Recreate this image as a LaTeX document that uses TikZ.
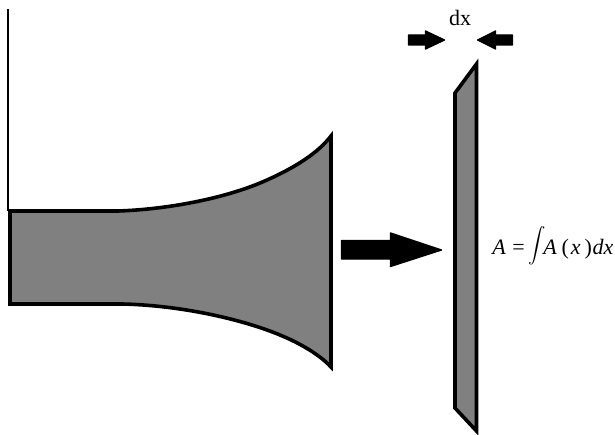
\documentclass[tikz,border=0pt]{standalone}
\usepackage{graphicx}
\usepackage{fontspec}
\setmainfont{Liberation Serif}
\definecolor{shade}{gray}{0.5}
\tikzset{
  body/.style={draw=black,fill=shade,line width=2.7pt,line join=miter,miter limit=6},
  blockarrow/.style={fill=black,draw=black,line width=1pt,line join=round},
  label/.style={inner sep=0pt,text=black,font=\fontsize{16.5}{19}\selectfont}
}
\begin{document}
\begin{tikzpicture}[x=0.75pt,y=-0.75pt]
\useasboundingbox (0,0) rectangle (615,435);
\draw[line width=1pt] (8,9) -- (8,211);
\draw[body] (10,211) -- (118,211)
  .. controls (165,209.5) and (225,199) .. (267,180)
  .. controls (295,167.5) and (318,153) .. (331,136)
  -- (331,367)
  .. controls (318,353) and (295,340) .. (267,330)
  .. controls (225,315) and (170,305) .. (122,304)
  -- (10,304) -- cycle;
\draw[body] (476.5,64) -- (455,93) -- (455,408) -- (476.5,431) -- cycle;
\draw[blockarrow] (341.5,240.5) -- (390.5,240.5) -- (390.5,233) -- (441.5,250) -- (390.5,266.5) -- (390.5,259) -- (341.5,259) -- cycle;
\draw[blockarrow] (408.5,35) -- (425.5,35) -- (425.5,31) -- (444.5,40) -- (425.5,49) -- (425.5,45) -- (408.5,45) -- cycle;
\draw[blockarrow] (512.5,35) -- (495.5,35) -- (495.5,31) -- (477.5,40) -- (495.5,49) -- (495.5,45) -- (512.5,45) -- cycle;
\node[label] (dx) at (460,18) {dx};
\node[label,anchor=base west] (formula) at (492,254) {\itshape A\kern5pt\upshape=\kern3pt\raisebox{0.5pt}{\scalebox{1.3}{$\displaystyle\int$}}\kern-2pt\itshape A\kern3.5pt\upshape(\kern1.5pt\itshape x\kern3pt\upshape)\kern0.5pt\itshape dx};
\end{tikzpicture}
\end{document}
